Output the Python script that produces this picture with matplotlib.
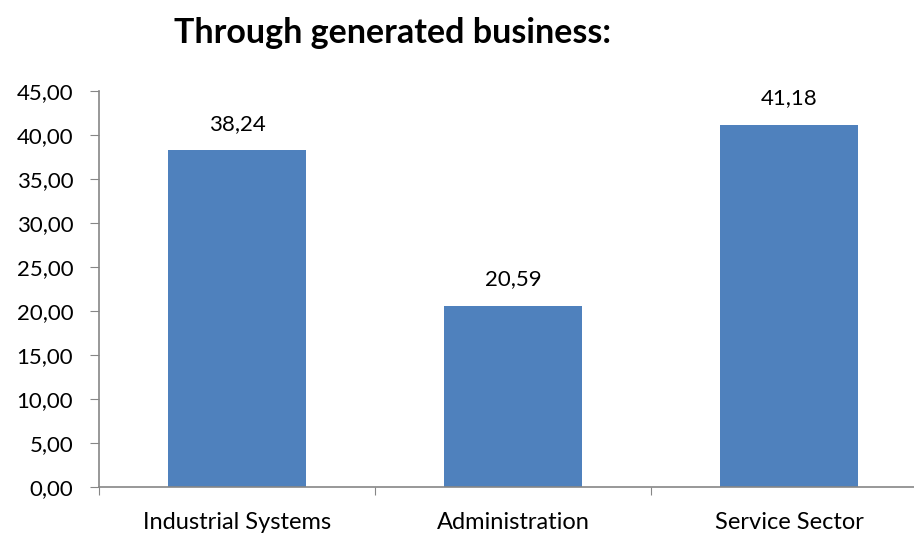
import matplotlib
matplotlib.use('Agg')
import matplotlib.pyplot as plt

# Data
categories = ['Industrial Systems', 'Administration', 'Service Sector']
values = [38.24, 20.59, 41.18]
yticks = [0, 5, 10, 15, 20, 25, 30, 35, 40, 45]

plt.rcParams['font.family'] = ['Lato', 'DejaVu Sans']

fig = plt.figure(figsize=(9.14, 5.35), dpi=100)
ax = fig.add_axes([99 / 914, 48 / 535, 828 / 914, 396 / 535])

x = list(range(len(categories)))
ax.bar(x, values, width=0.5, color='#4F81BD', zorder=2)

for xi, v in zip(x, values):
    ax.text(xi, v + 1.9, f"{v:.2f}".replace('.', ','), ha='center', va='bottom', fontsize=16)

ax.set_xlim(-0.5, 2.5)
ax.set_ylim(0, 45)
ax.set_yticks(yticks)
ax.set_yticklabels([f"{t:.2f}".replace('.', ',') for t in yticks], fontsize=16)

# category labels between boundary ticks
ax.set_xticks([-0.5, 0.5, 1.5, 2.5])
ax.set_xticklabels([])
ax.set_xticks(x, minor=True)
ax.set_xticklabels(categories, minor=True, fontsize=17)
ax.tick_params(axis='x', which='minor', length=0, pad=18)
ax.tick_params(axis='x', which='major', length=6, direction='out', color='#868686')
ax.tick_params(axis='y', length=6.5, direction='out', color='#868686', pad=12)

for s in ['top', 'right']:
    ax.spines[s].set_visible(False)
for s in ['left', 'bottom']:
    ax.spines[s].set_color('#868686')
    ax.spines[s].set_linewidth(1.2)

fig.text(393 / 914, 1 - 43 / 535, 'Through generated business:', ha='center', va='baseline',
         fontsize=24.5, fontweight='bold')

fig.savefig('out.png', dpi=100)
